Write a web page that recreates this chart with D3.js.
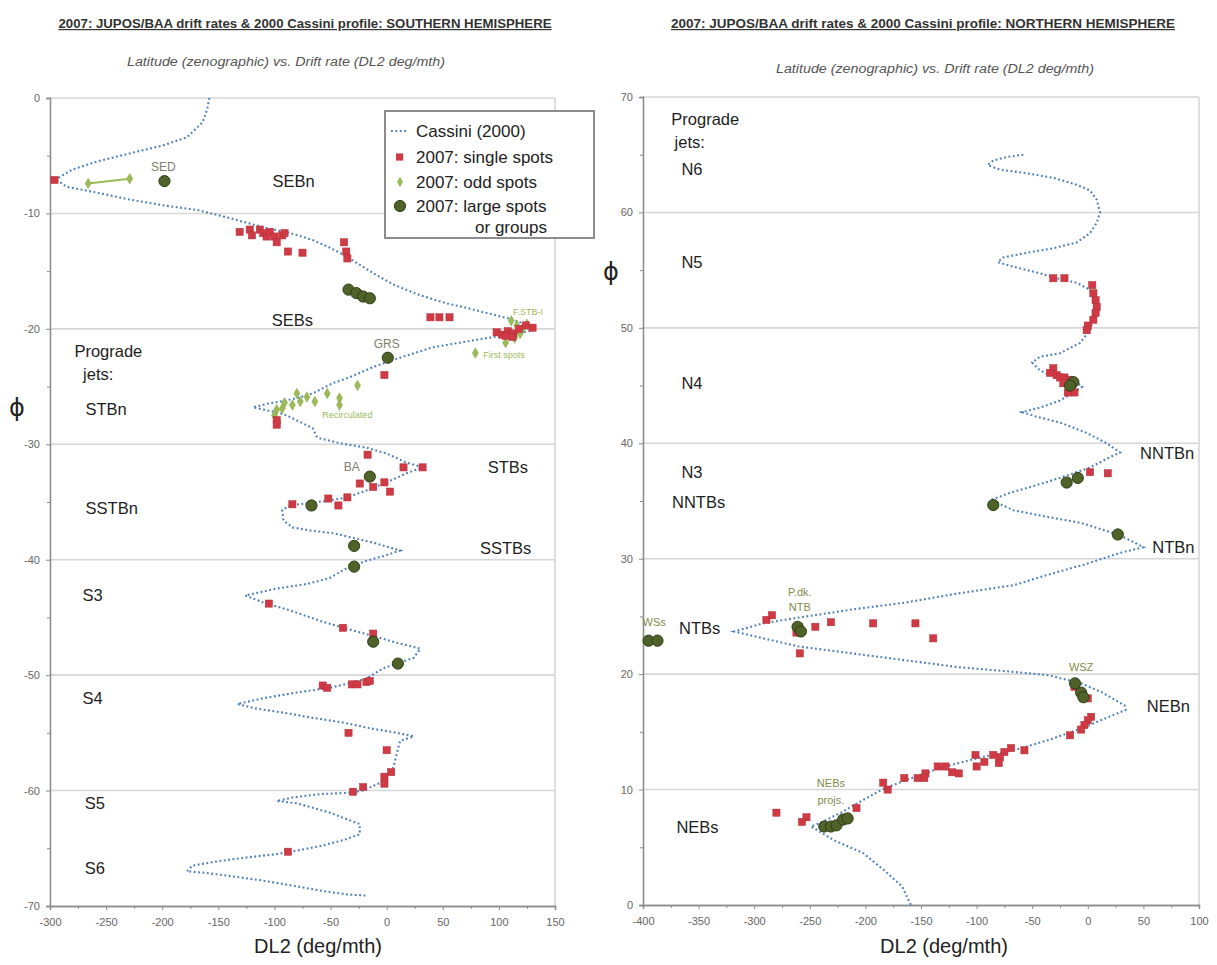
<!DOCTYPE html>
<html><head><meta charset="utf-8">
<script src="https://cdn.jsdelivr.net/npm/d3@7/dist/d3.min.js"></script>
<style>html,body{margin:0;padding:0;background:#fff;}svg{display:block;}</style>
</head><body>
<svg id="chart" width="1217" height="965"></svg>
<script>
// ---------------- DATA ----------------
const southXTicks=[-300,-250,-200,-150,-100,-50,0,50,100,150];
const southYTicks=[0,-10,-20,-30,-40,-50,-60,-70];
const northXTicks=[-400,-350,-300,-250,-200,-150,-100,-50,0,50,100];
const northYTicks=[0,10,20,30,40,50,60,70];

// Cassini (2000) profile, [DL2 drift, latitude]
const cassiniSouth=[[-158,0],[-160,-1.0],[-164,-2.1],[-178,-3.4],[-199,-4.1],[-229,-4.8],[-258,-5.5],[-280,-6.2],[-291,-6.8],[-294,-7.1],[-285,-7.7],[-258,-8.2],[-229,-8.8],[-199,-9.3],[-169,-9.7],[-140,-10.4],[-110,-11.2],[-86,-11.7],[-66,-12.3],[-52,-12.9],[-42,-13.4],[-28,-14.2],[-10,-15.3],[7,-16.2],[30,-17.1],[54,-17.8],[72,-18.2],[92,-18.7],[113,-19.2],[128,-19.8],[132,-20.1],[110,-20.5],[89,-20.8],[65,-21.2],[41,-21.6],[12,-22.5],[-12,-23.3],[-33,-24.2],[-48,-24.7],[-66,-25.6],[-80,-26.0],[-95,-26.3],[-107,-26.5],[-119,-26.8],[-95,-27.3],[-89,-27.5],[-66,-28.6],[-62,-29.4],[-59,-29.5],[-42,-29.9],[-18,-30.3],[0,-30.8],[18,-31.6],[32,-32.0],[18,-32.5],[0,-33.3],[-18,-34.0],[-35,-34.6],[-53,-34.9],[-71,-35.1],[-86,-35.3],[-93,-35.7],[-92,-36.6],[-84,-37.2],[-66,-37.5],[-48,-37.7],[-30,-38.1],[-9,-38.6],[12,-39.2],[0,-39.6],[-18,-40.1],[-35,-40.7],[-51,-41.6],[-71,-42.1],[-98,-42.5],[-126,-43.1],[-110,-43.7],[-86,-44.4],[-59,-45.3],[-35,-46.0],[-12,-46.6],[9,-47.2],[30,-47.7],[24,-48.5],[12,-48.9],[-3,-49.4],[-18,-50.3],[-33,-50.7],[-51,-51.1],[-80,-51.5],[-110,-52.0],[-133,-52.5],[-116,-52.9],[-89,-53.3],[-66,-53.7],[-39,-54.1],[-15,-54.6],[9,-55.0],[24,-55.3],[12,-55.7],[9,-56.8],[6,-58.0],[-3,-59.2],[-21,-60.0],[-35,-60.2],[-59,-60.3],[-84,-60.6],[-98,-60.9],[-80,-61.1],[-51,-61.9],[-24,-62.9],[-24,-63.8],[-39,-64.3],[-59,-64.8],[-80,-65.2],[-98,-65.5],[-125,-65.8],[-149,-66.1],[-173,-66.5],[-178,-67.0],[-164,-67.1],[-140,-67.4],[-110,-67.8],[-80,-68.3],[-57,-68.7],[-35,-69.0],[-18,-69.1]];

const singleSouth=[[-296,-7.1],[-131,-11.6],[-122,-11.4],[-120,-11.9],[-113,-11.4],[-110,-11.7],[-107,-12.0],[-104,-11.6],[-100,-12.0],[-98,-12.5],[-93,-11.9],[-91,-11.7],[-88,-13.3],[-75,-13.4],[-38,-12.5],[-36,-13.3],[-35,-13.9],[39,-19.0],[47,-19.0],[56,-19.0],[98,-20.3],[103,-20.5],[108,-20.2],[113,-20.4],[118,-20.0],[124,-19.7],[130,-19.9],[112,-20.7],[106,-20.6],[-2,-24.0],[-98,-27.9],[-98,-28.3],[-17,-30.9],[15,-32.0],[32,-32.0],[-24,-33.4],[-12,-33.7],[-2,-33.3],[3,-34.1],[-35,-34.6],[-52,-34.7],[-43,-35.3],[-84,-35.2],[-105,-43.8],[-39,-45.9],[-12,-46.4],[-57,-50.9],[-53,-51.1],[-31,-50.8],[-26,-50.8],[-18,-50.6],[-15,-50.5],[-34,-55.0],[0,-56.5],[4,-58.4],[-2,-58.8],[-2,-59.4],[-21,-59.7],[-30,-60.1],[-88,-65.3]];

const oddSouth=[[111,-19.3],[116,-19.7],[121,-20.0],[125,-19.6],[119,-20.4],[114,-20.8],[106,-21.2],[79,-22.1],[-26,-24.9],[-42,-26.0],[-42,-26.6],[-53,-25.6],[-64,-26.3],[-71,-25.9],[-77,-26.3],[-80,-25.6],[-84,-26.6],[-91,-26.4],[-93,-26.9],[-98,-27.0],[-100,-27.5]];
const oddSouthSED=[[-266,-7.4],[-229,-7.0]];

const largeSouth=[[-198,-7.2],[-34,-16.6],[-27,-16.9],[-21,-17.2],[-15,-17.35],[1,-22.5],[-15,-32.8],[-67,-35.3],[-29,-38.8],[-29,-40.6],[-12,-47.1],[10,-49.0]];

const cassiniNorth=[[-58,65.0],[-73,64.8],[-85,64.5],[-90,64.1],[-79,63.7],[-55,63.4],[-31,63.0],[-10,62.4],[2,61.9],[8,61.1],[11,60.0],[8,59.1],[2,58.2],[-10,57.4],[-31,56.9],[-55,56.5],[-76,56.1],[-81,55.7],[-67,55.3],[-46,54.8],[-28,54.3],[-10,53.9],[2,53.3],[6,52.2],[6,51.0],[2,49.8],[-7,48.7],[-25,47.8],[-43,47.5],[-50,47.0],[-43,46.3],[-28,45.7],[-13,45.5],[-5,44.9],[-13,44.4],[-25,43.7],[-43,43.1],[-59,42.7],[-46,42.3],[-25,41.8],[-1,40.9],[17,40.0],[29,39.2],[20,38.8],[2,37.9],[-25,37.0],[-52,36.2],[-70,35.7],[-87,35.1],[-67,34.2],[-35,33.6],[-6,33.1],[27,32.1],[42,31.4],[50,31.0],[29,30.5],[-3,29.5],[-29,28.8],[-67,27.7],[-116,27.0],[-164,26.2],[-212,25.6],[-260,24.9],[-292,24.4],[-318,23.7],[-292,23.1],[-260,22.4],[-212,21.8],[-164,21.2],[-116,20.6],[-67,20.2],[-35,19.9],[-6,19.2],[13,18.4],[33,17.3],[34,16.9],[19,16.3],[-3,15.4],[-35,14.3],[-67,13.4],[-100,12.7],[-132,11.9],[-164,10.8],[-183,10.1],[-202,9.1],[-222,8.0],[-241,7.1],[-249,6.8],[-228,5.6],[-202,4.5],[-183,3.0],[-167,1.6],[-159,0]];

const singleNorth=[[-31,54.3],[-21,54.3],[4,53.7],[5,53.0],[7,52.4],[8,51.8],[7,51.3],[5,50.7],[0,50.2],[-1,49.8],[-31,46.5],[-34,46.1],[-28,45.9],[-25,45.7],[-21,45.7],[-16,45.5],[-22,45.2],[-14,44.8],[-12,44.4],[-18,44.4],[2,37.5],[18,37.4],[-289,24.7],[-284,25.1],[-260,24.1],[-259,23.8],[-262,23.6],[-245,24.1],[-231,24.5],[-193,24.4],[-155,24.4],[-139,23.1],[-259,21.8],[-12,18.9],[-6,18.45],[0,17.9],[3,16.3],[0,16.0],[-3,15.6],[-6,15.2],[-16,14.7],[-57,13.4],[-69,13.6],[-75,13.25],[-79,12.8],[-80,12.3],[-85,13.0],[-93,12.4],[-101,13.0],[-100,12.0],[-116,11.4],[-122,11.5],[-128,12.0],[-135,12.0],[-146,11.4],[-147,11.0],[-153,11.0],[-165,11.0],[-180,10.0],[-184,10.6],[-208,8.4],[-253,7.6],[-257,7.2],[-280,8.0]];

const largeNorth=[[-13,45.3],[-16,45.0],[-9,37.0],[-19,36.6],[-85,34.65],[27,32.1],[-261,24.1],[-258,23.7],[-395,22.9],[-387,22.9],[-11.5,19.2],[-6,18.4],[-4,18.0],[-237,6.8],[-231,6.8],[-226,6.9],[-220,7.4],[-216,7.5]];

// Text annotations [text, drift, latitude, anchor]
const southBandLabels=[["SEBn",-83,-7.2,"middle"],["SEBs",-84,-19.2,"middle"],["Prograde",-248,-21.9,"middle"],["jets:",-257,-23.9,"middle"],["STBn",-250,-26.9,"middle"],["STBs",108,-32.0,"middle"],["SSTBn",-245,-35.5,"middle"],["SSTBs",106,-39.0,"middle"],["S3",-262,-43.1,"middle"],["S4",-262,-52.0,"middle"],["S5",-260,-61.1,"middle"],["S6",-260,-66.7,"middle"]];
const southSmallLabels=[["SED",-199,-6.0,"middle",12,"#80806a"],["GRS",0,-21.3,"middle",12,"#80806a"],["BA",-31,-32.0,"middle",12,"#80806a"],["F.STB-I",126,-18.5,"middle",9,"#9bbb59"],["First spots",86,-22.3,"start",9,"#9bbb59"],["Recirculated",-35,-27.5,"middle",9,"#9bbb59"]];
const northBandLabels=[["Prograde",-344,68.1,"middle"],["jets:",-358,66.1,"middle"],["N6",-356,63.8,"middle"],["N5",-356,55.7,"middle"],["N4",-356,45.2,"middle"],["N3",-356,37.5,"middle"],["NNTBs",-350,34.9,"middle"],["NTBs",-349,24.0,"middle"],["NEBs",-351,6.8,"middle"],["NNTBn",47,39.2,"start"],["NTBn",58,31.0,"start"],["NEBn",53,17.2,"start"]];
const northSmallLabels=[["P.dk.",-259,27.1,"middle",11,"#7f8c4a"],["NTB",-259,25.8,"middle",11,"#7f8c4a"],["WSs",-390,24.5,"middle",11,"#7f8c4a"],["WSZ",-6,20.6,"middle",11,"#7f8c4a"],["NEBs",-231,10.6,"middle",11,"#7f8c4a"],["projs.",-231,9.1,"middle",11,"#7f8c4a"]];

const legendItems=["Cassini (2000)","2007: single spots","2007: odd spots","2007: large spots"];

// ---------------- DRAW ----------------
const FONT="Arial, 'Liberation Sans', Helvetica, sans-serif";
const C_CASS="#4a7ebb", C_RED="#cf3a44", C_ODD="#9bbb59", C_LARGE="#4f6228", C_LARGE_S="#2f3d18";
const svg=d3.select("#chart");

function minorBetween(t){const r=[];for(let i=0;i<t.length-1;i++)r.push((t[i]+t[i+1])/2);return r;}

function drawPanel(o){
  const x=d3.scaleLinear().domain(o.xd).range([o.left,o.right]);
  const y=d3.scaleLinear().domain(o.yd).range([o.bottom,o.top]);
  const g=svg.append("g");
  g.append("g").selectAll("line").data(o.yTicks.filter(t=>t!==o.yd[0])).join("line")
    .attr("x1",o.left).attr("x2",o.right).attr("y1",d=>y(d)).attr("y2",d=>y(d))
    .attr("stroke","#d6d6d6").attr("stroke-width",1.6);
  g.append("line").attr("x1",o.right).attr("x2",o.right).attr("y1",o.top).attr("y2",o.bottom)
    .attr("stroke","#d6d6d6").attr("stroke-width",1.6);
  const ya=g.append("g").attr("transform",`translate(${o.left},0)`)
    .call(d3.axisLeft(y).tickValues(o.yTicks).tickSize(4).tickPadding(6).tickFormat(d=>String(d)));
  const ym=g.append("g").attr("transform",`translate(${o.left},0)`)
    .call(d3.axisLeft(y).tickValues(minorBetween(o.yTicks)).tickSize(3).tickFormat(""));
  const xa=g.append("g").attr("transform",`translate(0,${o.bottom})`)
    .call(d3.axisBottom(x).tickValues(o.xTicks).tickSize(4).tickPadding(8).tickFormat(d=>String(d)));
  const xm=g.append("g").attr("transform",`translate(0,${o.bottom})`)
    .call(d3.axisBottom(x).tickValues(minorBetween(o.xTicks)).tickSize(3).tickFormat(""));
  [ya,ym,xa,xm].forEach(a=>{
    a.select(".domain").attr("stroke","#8c8c8c").attr("stroke-width",1.3);
    a.selectAll(".tick line").attr("stroke","#8c8c8c");
    a.selectAll(".tick text").attr("fill","#666").style("font-family",FONT).style("font-size","11px");
  });
  const line=d3.line().x(d=>x(d[0])).y(d=>y(d[1]));
  g.append("path").datum(o.cassini).attr("d",line).attr("fill","none")
    .attr("stroke",C_CASS).attr("stroke-width",2.1).attr("stroke-dasharray","1.8,2.6");
  if(o.oddPair){
    g.append("path").datum(o.oddPair).attr("d",line).attr("fill","none").attr("stroke",C_ODD).attr("stroke-width",2);
  }
  const odd=(o.odd||[]).concat(o.oddPair||[]);
  g.append("g").selectAll("path").data(odd).join("path")
    .attr("transform",d=>`translate(${x(d[0])},${y(d[1])})`)
    .attr("d",d3.symbol(d3.symbolDiamond,32)).attr("fill",C_ODD).attr("stroke","#8aa84a").attr("stroke-width",0.5);
  g.append("g").selectAll("rect").data(o.single).join("rect")
    .attr("x",d=>x(d[0])-3.6).attr("y",d=>y(d[1])-3.6).attr("width",7.2).attr("height",7.2)
    .attr("fill",C_RED).attr("stroke","#b0303a").attr("stroke-width",0.5);
  g.append("g").selectAll("circle").data(o.large).join("circle")
    .attr("cx",d=>x(d[0])).attr("cy",d=>y(d[1])).attr("r",5.6)
    .attr("fill",C_LARGE).attr("stroke",C_LARGE_S).attr("stroke-width",1);
  g.append("g").selectAll("text").data(o.band).join("text")
    .attr("x",d=>x(d[1])).attr("y",d=>y(d[2])).attr("text-anchor",d=>d[3]).attr("dominant-baseline","central")
    .style("font-family",FONT).style("font-size","16.5px").attr("fill","#1e1e1e").text(d=>d[0]);
  g.append("g").selectAll("text").data(o.small).join("text")
    .attr("x",d=>x(d[1])).attr("y",d=>y(d[2])).attr("text-anchor",d=>d[3]).attr("dominant-baseline","central")
    .style("font-family",FONT).style("font-size",d=>d[4]+"px").attr("fill",d=>d[5]).text(d=>d[0]);
  svg.append("text").attr("x",o.titleX).attr("y",28).attr("text-anchor","middle")
    .style("font-family",FONT).style("font-size","12px").style("font-weight","bold")
    .style("text-decoration","underline").attr("fill","#333")
    .attr("textLength",o.titleW).attr("lengthAdjust","spacingAndGlyphs").text(o.title);
  svg.append("text").attr("x",o.subX).attr("y",o.subY).attr("text-anchor","middle")
    .style("font-family",FONT).style("font-size","12px").style("font-style","italic").attr("fill","#555")
    .attr("textLength",318).attr("lengthAdjust","spacingAndGlyphs")
    .text("Latitude (zenographic) vs. Drift rate (DL2 deg/mth)");
  svg.append("text").attr("x",o.axTitleX).attr("y",953).attr("text-anchor","middle")
    .style("font-family",FONT).style("font-size","20px").attr("fill","#222").text("DL2 (deg/mth)");
  svg.append("text").attr("x",o.phiX).attr("y",o.phiY).attr("text-anchor","middle")
    .style("font-family","'DejaVu Sans', sans-serif").style("font-size","24px").attr("fill","#222").text("\u03D5");
  return {x,y,g};
}

drawPanel({xd:[-300,150],yd:[-70,0],left:50,right:555,top:98,bottom:906,
  xTicks:southXTicks,yTicks:southYTicks,cassini:cassiniSouth,single:singleSouth,
  odd:oddSouth,oddPair:oddSouthSED,large:largeSouth,band:southBandLabels,small:southSmallLabels,
  title:"2007: JUPOS/BAA drift rates & 2000 Cassini profile:  SOUTHERN HEMISPHERE",titleX:305,titleW:493,
  subX:286,subY:66,axTitleX:318,phiX:17,phiY:416});

drawPanel({xd:[-400,100],yd:[0,70],left:643,right:1199,top:97,bottom:905,
  xTicks:northXTicks,yTicks:northYTicks,cassini:cassiniNorth,single:singleNorth,
  odd:[],oddPair:null,large:largeNorth,band:northBandLabels,small:northSmallLabels,
  title:"2007: JUPOS/BAA drift rates & 2000 Cassini profile:  NORTHERN HEMISPHERE",titleX:923,titleW:504,
  subX:935,subY:73,axTitleX:944,phiX:611,phiY:280});

const lg=svg.append("g");
lg.append("rect").attr("x",385).attr("y",111).attr("width",209).attr("height",127)
  .attr("fill","#fff").attr("stroke","#8c8c8c").attr("stroke-width",2);
const ly=[131,157,182,206];
lg.append("line").attr("x1",391).attr("x2",407).attr("y1",ly[0]).attr("y2",ly[0])
  .attr("stroke",C_CASS).attr("stroke-width",2).attr("stroke-dasharray","1.8,2.6");
lg.append("rect").attr("x",396).attr("y",ly[1]-3.6).attr("width",7.2).attr("height",7.2).attr("fill",C_RED);
lg.append("path").attr("transform",`translate(400,${ly[2]})`).attr("d",d3.symbol(d3.symbolDiamond,32)).attr("fill",C_ODD);
lg.append("circle").attr("cx",400).attr("cy",ly[3]).attr("r",5.6).attr("fill",C_LARGE).attr("stroke",C_LARGE_S);
lg.selectAll("text.li").data(legendItems).join("text").attr("class","li")
  .attr("x",416).attr("y",(d,i)=>ly[i]).attr("dominant-baseline","central")
  .style("font-family",FONT).style("font-size","17px").attr("fill","#222").text(d=>d);
lg.append("text").attr("x",511).attr("y",227).attr("text-anchor","middle").attr("dominant-baseline","central")
  .style("font-family",FONT).style("font-size","17px").attr("fill","#222").text("or groups");
</script>
</body></html>
